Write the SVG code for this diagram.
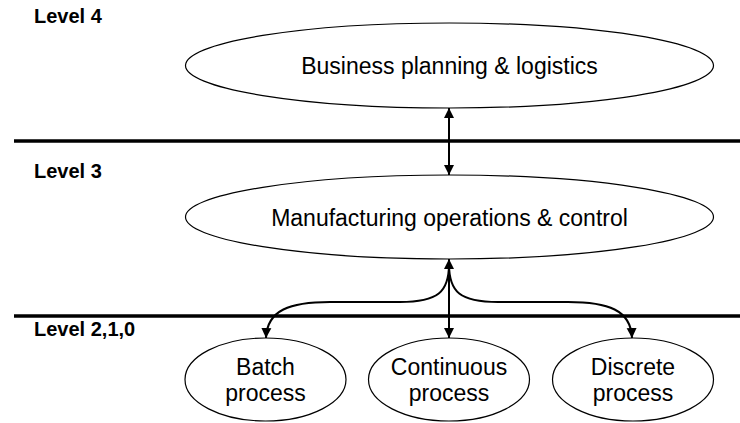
<svg xmlns="http://www.w3.org/2000/svg" width="740" height="423" viewBox="0 0 740 423">
<defs>
<marker id="ah" markerWidth="10" markerHeight="12" refX="10" refY="5" orient="auto" markerUnits="userSpaceOnUse" viewBox="0 0 10 10">
<path d="M0,0 L10,5 L0,10 Z" fill="#000"/>
</marker>
<style>
.lvl{font-family:"Liberation Sans",Arial,sans-serif;font-weight:bold;font-size:20px;fill:#000}
.txt{font-family:"Liberation Sans",Arial,sans-serif;font-size:23px;fill:#000;text-anchor:middle}
.node{fill:#fff;stroke:#000;stroke-width:1.2}
.sep{stroke:#000;stroke-width:3.5}
.con{fill:none;stroke:#000;stroke-width:2;marker-end:url(#ah)}
</style>
</defs>
<rect width="740" height="423" fill="#fff"/>
<g id="levels">
<line class="sep" x1="14" y1="141" x2="740" y2="141"/>
<line class="sep" x1="14" y1="316" x2="740" y2="316"/>
<text class="lvl" x="34" y="23">Level 4</text>
<text class="lvl" x="34" y="178">Level 3</text>
<text class="lvl" x="34" y="336">Level 2,1,0</text>
</g>
<g id="business">
<ellipse class="node" cx="449.5" cy="65.5" rx="264" ry="42.5"/>
<text class="txt" x="449.5" y="74">Business planning &amp; logistics</text>
</g>
<g id="manufacturing">
<ellipse class="node" cx="449.5" cy="217" rx="264" ry="42"/>
<text class="txt" x="449.5" y="225.5">Manufacturing operations &amp; control</text>
</g>
<g id="batch">
<ellipse class="node" cx="265.5" cy="379.5" rx="80.5" ry="41.5"/>
<text class="txt" x="265.5" y="375">Batch</text>
<text class="txt" x="265.5" y="401">process</text>
</g>
<g id="continuous">
<ellipse class="node" cx="449" cy="379.5" rx="80.5" ry="41.5"/>
<text class="txt" x="449" y="375">Continuous</text>
<text class="txt" x="449" y="401">process</text>
</g>
<g id="discrete">
<ellipse class="node" cx="633" cy="379.5" rx="80.5" ry="41.5"/>
<text class="txt" x="633" y="375">Discrete</text>
<text class="txt" x="633" y="401">process</text>
</g>
<g id="connectors">
<line class="con" x1="449" y1="141" x2="449" y2="108"/>
<line class="con" x1="449" y1="141" x2="449" y2="175"/>
<line class="con" x1="449" y1="290" x2="449" y2="259"/>
<line class="con" x1="449" y1="290" x2="449" y2="338"/>
<path class="con" d="M449,264 C449,292 438,302 400,302 L330,302 C290,302 267,310 266,338"/>
<path class="con" d="M449,264 C449,292 460,302 498,302 L568,302 C608,302 631,310 632,338"/>
</g>
</svg>
